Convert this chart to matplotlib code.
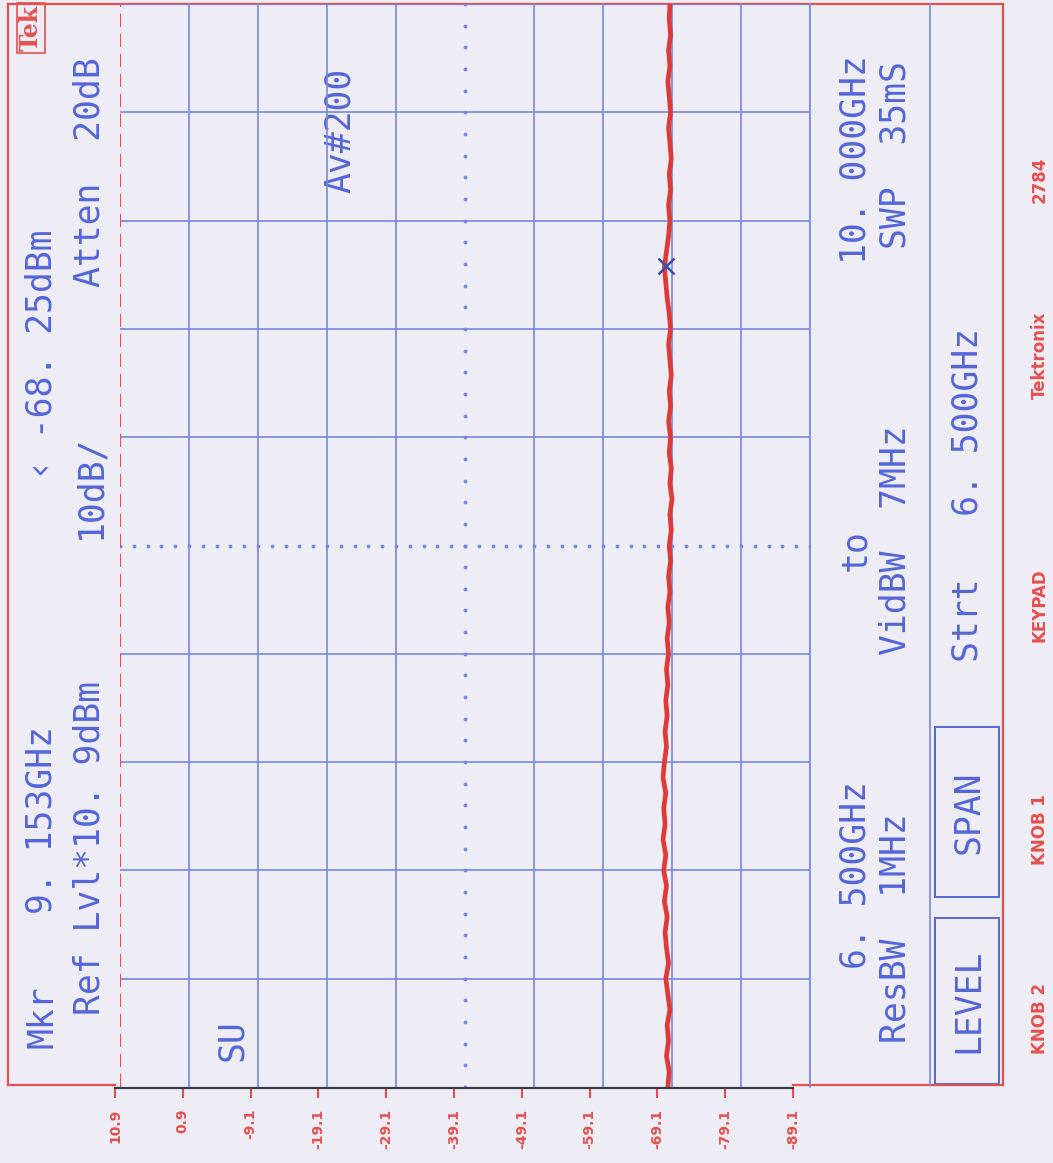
#!/usr/bin/env python3
# spectrum analyzer plot (printed sideways, like the plotter output)

import matplotlib.pyplot as plt
import numpy as np

W, H = 1053, 1163

# --- data -----------------------------------------------------------------
ref_level = 10.9          # dBm, left edge of graticule
db_per_div = 10
f_start, f_stop = 6.5, 10.0   # GHz
freq = np.linspace(f_start, f_stop, 71)
level = [-68.5, -68.7, -68.3, -68.6, -68.4, -68.8, -68.5, -68.2, -68.6, -68.3,
         -68.1, -68.4, -68.0, -68.3, -67.9, -68.2, -67.8, -68.1, -67.9, -68.2,
         -67.8, -68.0, -68.3, -68.1, -68.4, -68.2, -68.5, -68.3, -68.6, -68.4,
         -68.7, -68.5, -68.8, -68.6, -68.9, -68.7, -69.0, -68.8, -69.1, -68.8,
         -69.0, -68.7, -68.9, -68.6, -68.9, -68.7, -69.0, -68.8, -68.6, -68.9,
         -68.7, -68.4, -68.2, -68.0, -68.3, -68.6, -68.8, -68.6, -68.9, -68.7,
         -69.0, -68.8, -68.6, -68.9, -68.7, -68.5, -68.8, -68.6, -68.9, -68.7,
         -68.8]
mkr_freq, mkr_level = 9.153, -68.25
scale_labels = ['10.9', '0.9', '-9.1', '-19.1', '-29.1', '-39.1',
                '-49.1', '-59.1', '-69.1', '-79.1', '-89.1']

bg = '#eeedf5'
blue = '#5466d8'
gblue = '#7686e2'
red = '#e4504e'

fig = plt.figure(figsize=(W / 100, H / 100), dpi=100, facecolor=bg)

# overlay in pixel coords for frame + annotations
ov = fig.add_axes([0, 0, 1, 1], zorder=0)
ov.set_xlim(0, W)
ov.set_ylim(H, 0)
ov.axis('off')
ov.patch.set_alpha(0)

# --- graticule / trace ---------------------------------------------------
gx0, gx1, gy0, gy1 = 120, 810, 4, 1087
ax = fig.add_axes([gx0 / W, 1 - gy1 / H, (gx1 - gx0) / W, (gy1 - gy0) / H], zorder=2)
ax.patch.set_alpha(0)
amp_lo = ref_level - 10 * db_per_div
ax.set_xlim(ref_level, amp_lo)
ax.set_ylim(f_start, f_stop)
ax.set_xticks([])
ax.set_yticks([])
for s in ax.spines.values():
    s.set_visible(False)

amp_div = ref_level - db_per_div * np.arange(11)
f_div = f_start + (f_stop - f_start) / 10 * np.arange(11)
amp_mid, f_mid = amp_div[5], f_div[5]

for a in amp_div[1:]:
    if a == amp_mid:
        ax.plot([a] * 51, np.linspace(f_start, f_stop, 51), ls='none',
                marker='.', ms=3.5, color=gblue)
    else:
        ax.axvline(a, color=gblue, lw=1.2)
for f in f_div[1:]:
    if f == f_mid:
        ax.plot(np.linspace(ref_level, amp_lo, 51), [f] * 51, ls='none',
                marker='.', ms=3.5, color=gblue)
    else:
        ax.axhline(f, color=gblue, lw=1.2)
ax.axvline(ref_level, color=red, lw=1.6, ls=(0, (6, 3)))

ax.plot(level, freq, color='#e03a36', lw=3.4, solid_joinstyle='round')
ax.plot([mkr_level], [mkr_freq], marker='x', ms=12, mew=1.8, color='#3c4cb0')

# --- amplitude scale at the bottom ---------------------------------------
tx = fig.add_axes([115 / W, 1 - 1088 / H, 678 / W, 0.0005], zorder=3)
tx.patch.set_alpha(0)
tx.set_xlim(ref_level, amp_lo)
tx.set_yticks([])
for k in ['top', 'left', 'right']:
    tx.spines[k].set_visible(False)
tx.spines['bottom'].set_color('#3a3a4a')
tx.spines['bottom'].set_linewidth(1.6)
tx.set_xticks(amp_div)
tx.set_xticklabels(scale_labels, rotation=90, color=red, fontsize=10,
                   fontweight='bold')
tx.tick_params(axis='x', direction='out', length=7, width=1.5, color=red, pad=8)

# --- frame -----------------------------------------------------------------
fr = dict(color=red, lw=1.6)
ov.plot([8, 1003], [4, 4], **fr)
ov.plot([8, 8], [4, 1085], **fr)
ov.plot([1003, 1003], [4, 1085], **fr)
ov.plot([8, 115], [1085, 1085], **fr)
ov.plot([793, 1003], [1085, 1085], **fr)
ov.plot([930, 930], [4, 1085], color=gblue, lw=1.2)
ov.plot([810, 810], [4, 1087], color=gblue, lw=1.2)
for y0, y1 in [(918, 1084), (727, 897)]:
    ov.add_patch(plt.Rectangle((935, y0), 64, y1 - y0, fill=False,
                               ec=blue, lw=1.4))

# --- annotation text (rotated like the print) ----------------------------
mono = dict(family='DejaVu Sans Mono', fontsize=25, color=blue,
            rotation=90, ha='center', va='center')
texts = [
    (42, 1017, 'Mkr'), (42, 820, '9. 153GHz'), (42, 355, '‹ -68. 25dBm'),
    (90, 848, 'Ref Lvl*10. 9dBm'), (90, 487, '10dB/'), (90, 172, 'Atten  20dB'),
    (232, 1040, 'SU'), (340, 130, 'Av#200'),
    (855, 875, '6. 500GHz'), (855, 550, 'to'), (855, 160, '10. 000GHz'),
    (895, 928, 'ResBW  1MHz'), (895, 540, 'VidBW  7MHz'), (895, 155, 'SWP  35mS'),
    (968, 1001, 'LEVEL'), (968, 812, 'SPAN'), (968, 495, 'Strt   6. 500GHz'),
]
for x, y, s in texts:
    ov.text(x, y, s, **mono)

ov.text(31, 28, 'Tek', rotation=90, ha='center', va='center', color=red,
        fontsize=17, fontweight='bold', family='DejaVu Serif',
        bbox=dict(boxstyle='square,pad=0.08', fc='none', ec=red, lw=1.2))

side = dict(rotation=90, ha='center', va='center', color=red,
            fontsize=12, fontweight='bold')
for y, s in [(1018, 'KNOB 2'), (830, 'KNOB 1'), (605, 'KEYPAD'),
             (355, 'Tektronix'), (180, '2784')]:
    ov.text(1040, y, s, **side)

plt.savefig('out.png', dpi=100, facecolor=bg)
